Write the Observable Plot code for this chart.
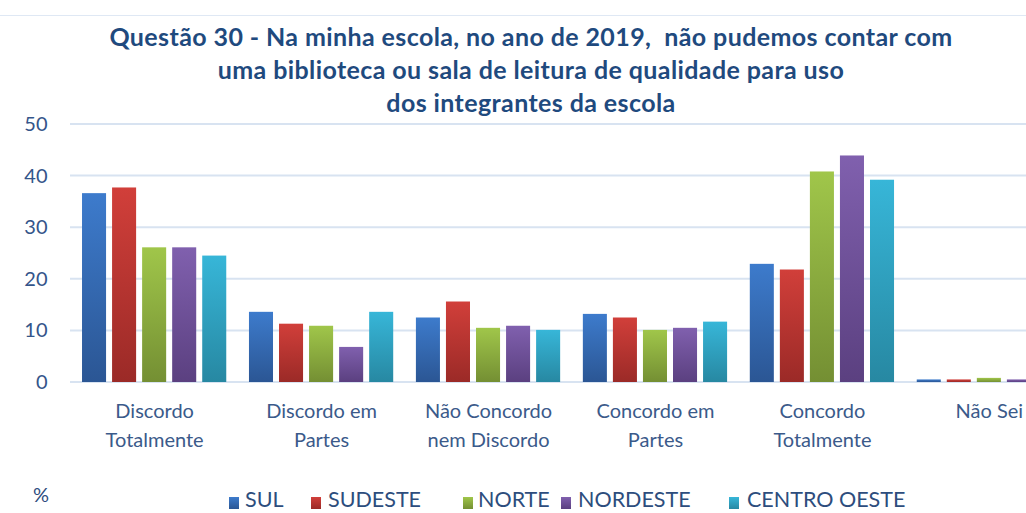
<!DOCTYPE html>
<html>
<head>
<meta charset="utf-8">
<script src="https://cdn.jsdelivr.net/npm/d3@7"></script>
<script src="https://cdn.jsdelivr.net/npm/@observablehq/plot@0.6"></script>
<style>
  html, body { margin: 0; padding: 0; background: #fff; overflow: hidden; }
  #wrap { position: relative; width: 1026px; height: 513px; overflow: hidden; background: #fff; }
  #title { position: absolute; left: 0; top: 20px; width: 1062px; text-align: center; white-space: pre;
    font-family: Lato, sans-serif; font-weight: bold; font-size: 25px; letter-spacing: 0.4px; line-height: 33px; color: #1f4a7e; }
  #topline { position: absolute; left: 0; top: 15px; width: 1026px; height: 1px; background: #dfe8f4; }
  #chart { position: absolute; left: 0; top: 110px; width: 1090px; }
  #chart svg { max-width: none !important; }
  .pct { position: absolute; left: 33px; top: 482px; font-family: Lato, sans-serif; font-size: 20px; color: #2d4d7d; }
  .leg { position: absolute; top: 486px; font-family: Lato, sans-serif; font-size: 21.5px; line-height: 26px; color: #2d4d7d; white-space: nowrap; }
  .sw { position: absolute; top: 497px; width: 10px; height: 12px; }
</style>
</head>
<body>
<div id="wrap">
  <div id="topline"></div>
  <div id="title"></div>
  <div id="chart"></div>
  <div class="pct">%</div>
  <div id="legend"></div>
</div>
<script>
const titleLines = [
  "Questão 30 - Na minha escola, no ano de 2019,  não pudemos contar com",
  "uma biblioteca ou sala de leitura de qualidade para uso",
  "dos integrantes da escola"
];
const categories = [
  "Discordo\nTotalmente",
  "Discordo em\nPartes",
  "Não Concordo\nnem Discordo",
  "Concordo em\nPartes",
  "Concordo\nTotalmente",
  "Não Sei"
];
const series = ["SUL", "SUDESTE", "NORTE", "NORDESTE", "CENTRO OESTE"];
const sul         = [36.6, 13.6, 12.5, 13.2, 22.9, 0.5];
const sudeste     = [37.7, 11.3, 15.6, 12.5, 21.8, 0.5];
const norte       = [26.1, 10.9, 10.5, 10.1, 40.8, 0.8];
const nordeste    = [26.1,  6.8, 10.9, 10.5, 43.9, 0.5];
const centroOeste = [24.5, 13.6, 10.1, 11.7, 39.2, 0.5];
const yTicks = [0, 10, 20, 30, 40, 50];
const colorsTop    = ["#3d7bcc", "#d13f3a", "#a0c64a", "#8060ae", "#37b6d8"];
const colorsBottom = ["#2b5694", "#9b2a27", "#748f33", "#5b4080", "#2788a2"];

const seriesValues = [sul, sudeste, norte, nordeste, centroOeste];
const data = [];
categories.forEach((c, i) => {
  series.forEach((s, j) => data.push({category: c, series: s, value: seriesValues[j][i]}));
});

document.getElementById("title").textContent = titleLines.join("\n");

const W = 1090, H = 350, ML = 70, MR = 17, MT = 14, MB = 78;
const textColor = "#34558a";

const chart = Plot.plot({
  width: W,
  height: H,
  marginLeft: ML,
  marginRight: MR,
  marginTop: MT,
  marginBottom: MB,
  style: {background: "transparent", overflow: "visible", maxWidth: "none"},
  fx: {domain: categories, paddingInner: 0.1, paddingOuter: 0.054, round: false, label: null},
  x: {domain: series, paddingInner: 0.2, paddingOuter: 0.1, round: false, axis: null},
  y: {domain: [0, 50], label: null},
  color: {type: "ordinal", domain: series, range: series.map((s, i) => `url(#grad${i})`)},
  marks: [
    Plot.barY(data, {fx: "category", x: "series", y: "value", fill: "series", inset: 0}),
    Plot.axisY({ticks: yTicks, tickSize: 0, tickPadding: 32, fontSize: 20, fill: textColor,
      fontFamily: "Lato, sans-serif", label: null}),
    Plot.axisFx({anchor: "bottom", tickSize: 0, tickPadding: 15, fontSize: 20, lineHeight: 1.45,
      fill: "#3b5a8a", fontFamily: "Lato, sans-serif", label: null, style: "letter-spacing:1.8px"})
  ]
});

const svg = d3.select(chart);
svg.attr("width", W).attr("height", H).style("max-width", "none");
const defs = svg.insert("defs", ":first-child");
series.forEach((s, i) => {
  const g = defs.append("linearGradient").attr("id", `grad${i}`)
    .attr("x1", 0).attr("y1", 0).attr("x2", 0).attr("y2", 1);
  g.append("stop").attr("offset", "0%").attr("stop-color", colorsTop[i]);
  g.append("stop").attr("offset", "100%").attr("stop-color", colorsBottom[i]);
});
const yScale = chart.scale("y");
const grid = svg.insert("g", "defs + *").attr("class", "grid");
yTicks.forEach(t => {
  const yy = yScale.apply(t);
  grid.append("line").attr("x1", ML).attr("x2", W - MR).attr("y1", yy).attr("y2", yy)
    .attr("stroke", "#d8e3f1").attr("stroke-width", 2);
});
document.getElementById("chart").appendChild(chart);

const legendItems = [
  {sw: 229, tx: 245},
  {sw: 311, tx: 328},
  {sw: 463, tx: 478},
  {sw: 561, tx: 578},
  {sw: 729, tx: 747}
];
const legend = document.getElementById("legend");
series.forEach((s, i) => {
  const sw = document.createElement("div");
  sw.className = "sw";
  sw.style.left = legendItems[i].sw + "px";
  sw.style.background = `linear-gradient(${colorsTop[i]}, ${colorsBottom[i]})`;
  legend.appendChild(sw);
  const tx = document.createElement("div");
  tx.className = "leg";
  tx.style.left = legendItems[i].tx + "px";
  tx.textContent = s;
  legend.appendChild(tx);
});
</script>
</body>
</html>
